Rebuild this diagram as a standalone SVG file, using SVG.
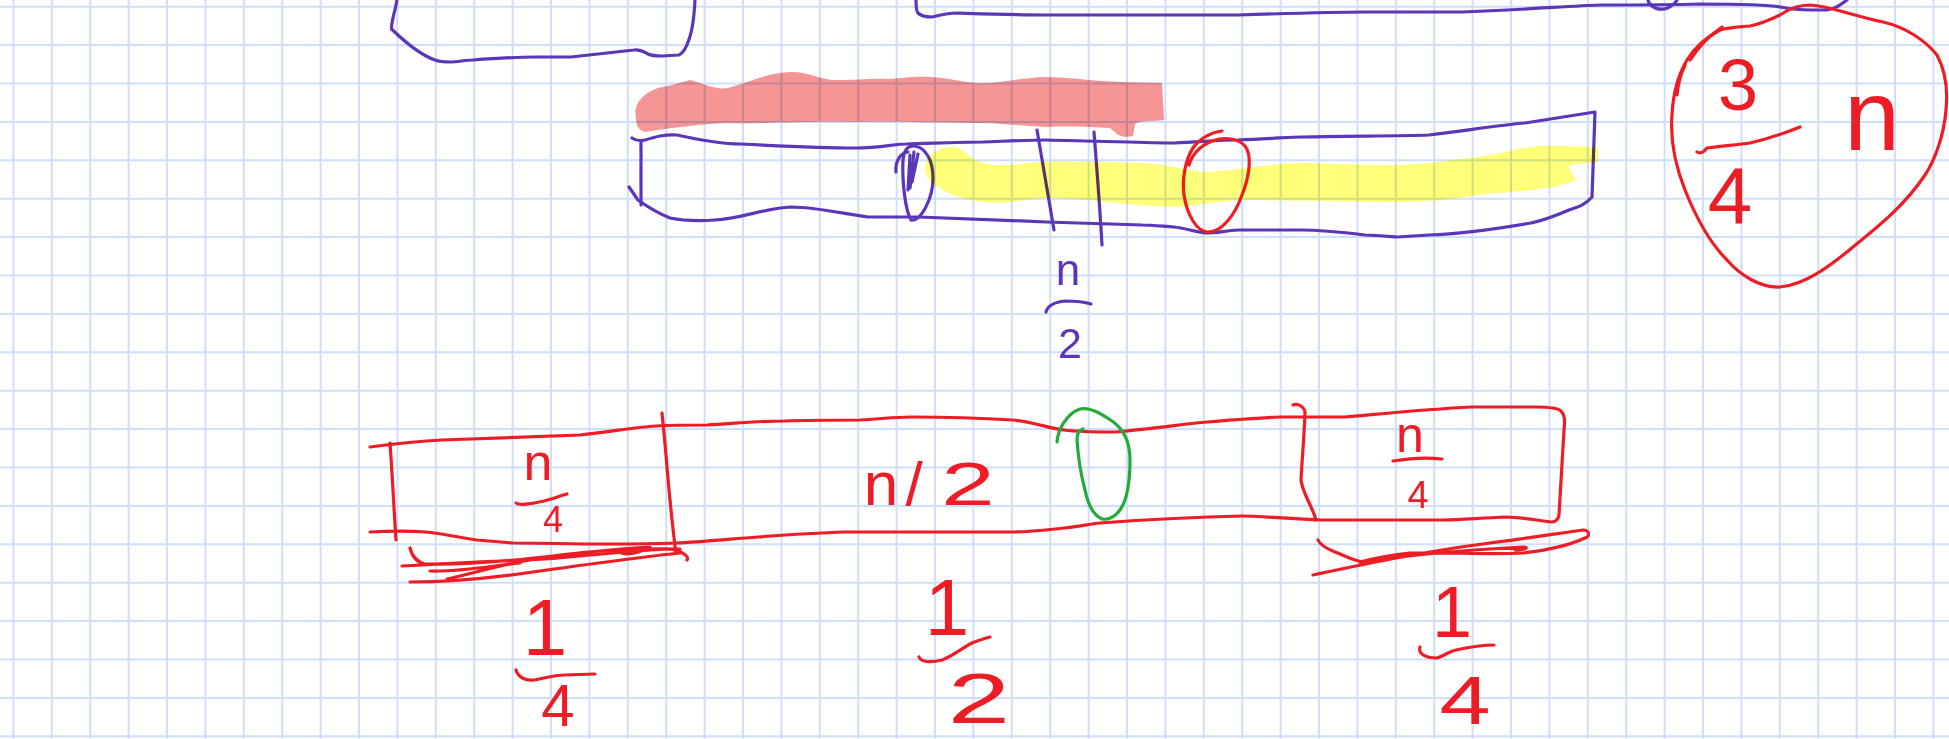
<svg xmlns="http://www.w3.org/2000/svg" width="1949" height="739" viewBox="0 0 1949 739">
  <style>
    .grid { stroke: #cddffb; stroke-width: 2; fill: none; }
    .pu { stroke: #5b36b8; stroke-width: 3.2; fill: none; stroke-linecap: round; stroke-linejoin: round; }
    .rd { stroke: #ee1c25; stroke-width: 3.2; fill: none; stroke-linecap: round; stroke-linejoin: round; }
    .gr { stroke: #22ab3b; stroke-width: 3.2; fill: none; stroke-linecap: round; stroke-linejoin: round; }
    .hl-pink { fill: #f59595; mix-blend-mode: multiply; }
    .hl-yellow { fill: #ffff7a; mix-blend-mode: multiply; }
    .t { font-family: "Liberation Sans", Arial, sans-serif; text-anchor: middle; }
    .tr { fill: #ee1c25; }
    .tp { fill: #5b36b8; }
  </style>

  <rect width="1949" height="739" fill="#ffffff"/>

  <!-- squared paper -->
  <g id="grid" class="grid">
    <path d="M13.4 0V739M51.8 0V739M90.2 0V739M128.6 0V739M167 0V739M205.4 0V739M243.8 0V739M282.2 0V739M320.6 0V739M359 0V739M397.4 0V739M435.8 0V739M474.2 0V739M512.6 0V739M551 0V739M589.4 0V739M627.8 0V739M666.2 0V739M704.6 0V739M743 0V739M781.4 0V739M819.8 0V739M858.2 0V739M896.6 0V739M935 0V739M973.4 0V739M1011.8 0V739M1050.2 0V739M1088.6 0V739M1127 0V739M1165.4 0V739M1203.8 0V739M1242.2 0V739M1280.6 0V739M1319 0V739M1357.4 0V739M1395.8 0V739M1434.2 0V739M1472.6 0V739M1511 0V739M1549.4 0V739M1587.8 0V739M1626.2 0V739M1664.6 0V739M1703 0V739M1741.4 0V739M1779.8 0V739M1818.2 0V739M1856.6 0V739M1895 0V739M1933.4 0V739"/>
    <path d="M0 6.7H1949M0 45.1H1949M0 83.5H1949M0 121.9H1949M0 160.3H1949M0 198.7H1949M0 237.1H1949M0 275.5H1949M0 313.9H1949M0 352.3H1949M0 390.7H1949M0 429.1H1949M0 467.5H1949M0 505.9H1949M0 544.3H1949M0 582.7H1949M0 621.1H1949M0 659.5H1949M0 697.9H1949M0 736.3H1949"/>
  </g>

  <!-- upper boxes, cut by the top edge -->
  <g id="box-top-left">
    <path class="pu" d="M397,0 C395,12 391,22 391.5,29 C405,42 420,55 435,60 C440,62 446,62 450,62 C458,62 465,60 473,60 C500,58 520,57 536,57 L571,57 C590,55 615,52 634,50 C640,49 644,52 648,54 C652,56 656,56 662,56 L679,55 C683,53 686,48 688,42 C692,33 694,20 695,0"/>
  </g>
  <g id="box-top-right">
    <path class="pu" d="M916,0 C916,6 916,11 918,13 C922,17 928,17 932,17 C940,15 950,13 957,13 C990,14 1020,15 1046,15 L1238,15 C1300,13 1340,12 1365,12 L1461,12 C1520,10 1570,6 1600,5 C1640,5 1670,5 1700,4 C1740,4 1770,5 1780,7 C1790,9 1800,10 1812,10 L1827,10 C1835,9 1840,5 1847,0"/>
    <path class="pu" d="M1648,0 C1650,8 1660,11 1668,8 C1673,5 1676,2 1677,0"/>
  </g>

  <!-- middle array -->
  <g id="array-middle">
    <path class="pu" d="M632,138 C636,141 640,141 645,140 C655,137 665,134 677,135 C700,140 720,144 740,144 C780,146 820,148 855,148 C880,148 895,144 906,144 C940,143 960,142 983,142 C1010,141 1030,140 1046,140 C1100,141 1150,143 1174,143 C1200,142 1220,140 1238,140 C1270,139 1290,137 1301,137 C1350,136 1400,136 1429,135 C1470,130 1500,125 1525,123 C1550,119 1575,115 1595,112 L1592,197 C1585,205 1578,207 1569,210 C1555,216 1545,220 1531,223 C1490,230 1460,234 1429,235 L1397,237 C1385,236 1375,235 1365,235 C1340,232 1320,230 1301,230 L1238,230 C1225,231 1215,233 1206,233 C1195,232 1185,228 1174,227 C1160,226 1150,225 1142,225 C1110,224 1080,223 1046,222 C1000,220 950,218 919,217 L868,217 C840,213 815,207 791,207 C765,208 740,219 715,220 C700,221 685,221 670,218 C655,212 645,205 638,200 L629,187"/>
    <path class="pu" d="M641,142 L641,205"/>
    <path class="pu" d="M1037,130 C1042,160 1048,195 1054,230"/>
    <path class="pu" d="M1094,132 C1097,170 1100,210 1102,245"/>
    <path class="pu" d="M913,146 C925,146 933,160 933,178 C933,200 920,222 911,220 C905,210 902,180 903,160 C904,150 908,146 913,146 Z"/>
    <path class="pu" d="M896,172 C895,162 900,153 908,152 M910,155 L908,190 M914,152 L910,188 M918,154 L912,182"/>
    <path class="rd" d="M1222,131 C1212,132 1200,138 1193,148 C1185,160 1182,180 1184,195 C1187,215 1197,232 1208,232 C1222,232 1235,215 1242,195 C1250,175 1252,155 1245,146 C1238,138 1225,137 1212,141 C1200,146 1192,155 1189,165"/>
    <text class="t tp" x="1068" y="285" font-size="44">n</text>
    <path class="pu" d="M1046,312 C1048,305 1055,302 1065,301 C1075,301 1085,302 1091,304"/>
    <text class="t tp" x="1070" y="358" font-size="43">2</text>
  </g>

  <!-- highlighter strokes -->
  <g id="highlights">
    <path class="hl-pink" d="M636,118 C632,100 650,88 668,86 L690,80 C705,84 715,90 728,88 C750,82 770,72 791,72 C810,72 820,80 836,80 C860,80 870,78 887,79 C905,78 915,76 932,77 C955,79 965,83 983,83 C1005,83 1025,77 1046,77 C1080,78 1100,82 1123,82 L1162,83 L1164,120 C1150,122 1140,120 1135,124 L1133,136 C1125,138 1118,136 1115,132 L1110,128 C1090,127 1070,126 1046,127 C1020,126 1000,123 983,123 C950,123 900,121 855,122 C800,121 760,124 728,123 C700,124 670,128 645,132 C638,130 636,125 636,118 Z"/>
    <path class="hl-yellow" d="M925,170 C924,158 935,148 950,147 C962,147 968,155 972,158 C985,166 1000,166 1020,164 C1050,160 1100,162 1142,163 C1170,164 1190,172 1206,172 C1240,170 1270,163 1301,163 C1340,164 1370,165 1397,165 C1430,164 1450,160 1470,158 C1500,155 1515,148 1540,146 C1560,146 1580,146 1598,148 L1598,162 C1585,163 1575,164 1568,166 L1576,180 C1560,188 1520,192 1493,193 C1460,198 1430,202 1397,202 C1340,202 1290,200 1238,200 C1210,202 1190,207 1174,207 C1130,206 1090,198 1046,198 C1025,199 1010,203 995,203 C970,202 950,195 944,190 C932,185 926,178 925,170 Z"/>
  </g>

  <!-- circled note: 3/4 n -->
  <g id="note-three-quarters">
    <path class="rd" d="M1780,15 C1790,8 1800,5 1810,5 C1830,6 1850,15 1883,22 C1905,27 1925,40 1937,55 C1945,70 1948,90 1946,110 C1944,135 1935,160 1925,175 C1905,205 1880,225 1853,247 C1830,266 1805,285 1780,287 C1760,288 1740,275 1727,260 C1710,243 1695,215 1685,190 C1675,165 1670,140 1672,115 C1673,95 1678,75 1687,60 C1695,47 1705,38 1720,30 C1730,27 1740,27 1750,26 C1760,24 1770,20 1780,15 Z"/>
    <path class="rd" d="M1722,27 C1710,35 1700,45 1690,60 M1685,65 C1680,75 1678,85 1677,95"/>
    <text class="t tr" x="1738" y="110" font-size="72">3</text>
    <path class="rd" d="M1697,152 C1700,154 1704,152 1707,148 C1720,146 1735,145 1750,143 C1768,139 1785,133 1800,127"/>
    <text class="t tr" x="1730" y="223" font-size="80">4</text>
    <text class="t tr" x="1872" y="150" font-size="100">n</text>
  </g>

  <!-- bottom array split into n/4, n/2, n/4 -->
  <g id="array-bottom">
    <path class="rd" d="M370,447 C400,443 420,441 442,440 C500,438 550,436 580,435 C610,432 635,427 656,426 C675,425 690,425 707,425 C740,423 760,421 784,421 C810,420 840,420 860,420 C880,419 895,417 911,417 C950,417 980,418 1013,420 C1035,422 1050,429 1064,430 C1080,432 1100,432 1115,432 C1140,430 1170,426 1196,423 C1230,420 1255,418 1280,417 L1345,417 C1390,413 1430,409 1471,407 L1536,407 C1550,407 1558,408 1561,411 C1565,415 1565,420 1564,430 L1559,515 C1558,520 1556,522 1552,522 C1535,520 1520,517 1506,517 C1480,518 1460,520 1444,520 L1322,520 C1290,519 1260,516 1242,516 C1190,517 1140,520 1100,523 C1090,524 1075,527 1064,528 C1045,530 1030,532 1013,532 L845,532 C815,533 785,535 758,537 C730,539 700,542 676,543 C650,544 625,544 605,544 C575,544 540,543 513,543 C500,542 488,541 477,540 C455,537 440,533 426,532 C410,531 390,531 370,532"/>
    <path class="rd" d="M390,443 C392,470 394,510 396,540"/>
    <path class="rd" d="M662,413 C665,440 667,470 670,500 C672,520 674,540 676,553"/>
    <path class="rd" d="M1293,405 C1298,403 1305,407 1305,413 C1304,440 1302,460 1301,480 C1303,495 1312,505 1316,520"/>
    <path class="gr" d="M1057,442 C1058,430 1066,414 1080,409 C1090,407 1100,413 1112,421 C1125,430 1130,445 1130,460 C1130,480 1127,500 1120,510 C1115,517 1108,520 1102,519 C1093,515 1088,505 1085,490 C1081,475 1078,455 1077,440 C1077,434 1079,430 1083,429"/>

    <text class="t tr" x="538" y="480" font-size="52">n</text>
    <path class="rd" d="M516,503 C520,506 530,504 544,501 C552,499 560,496 567,494"/>
    <text class="t tr" x="553" y="532" font-size="36">4</text>

    <text class="t tr" y="505" font-size="62"><tspan x="881">n</tspan><tspan x="914">/</tspan></text>
    <text class="t tr" font-size="62" transform="translate(968,505) scale(1.55,1)">2</text>

    <text class="t tr" x="1410" y="452" font-size="50">n</text>
    <path class="rd" d="M1393,461 C1405,459 1425,457 1442,459"/>
    <text class="t tr" x="1418" y="508" font-size="38">4</text>

    <!-- crossed-out lines under the outer quarters -->
    <path class="rd" d="M410,548 C412,556 416,562 425,564 C470,565 520,560 560,555 C600,550 640,548 680,549 M402,566 C450,563 500,561 545,559 C590,555 630,551 668,549 C680,550 690,556 687,560 M410,582 C450,582 500,577 540,571 C590,564 640,557 680,553 M447,579 C470,574 500,565 530,560 C570,554 610,549 650,547 C640,553 625,556 620,552 M430,571 C460,572 490,566 520,563"/>
    <path class="rd" d="M1318,540 C1320,545 1325,548 1335,552 C1348,557 1355,562 1365,562 C1400,556 1450,551 1523,547 C1530,547 1525,550 1515,550 M1313,575 C1360,565 1420,552 1490,543 C1530,538 1560,533 1583,530 C1590,530 1590,537 1585,538 C1570,545 1550,550 1523,553 C1490,555 1450,552 1410,553 C1390,555 1375,558 1360,562"/>

    <!-- probabilities -->
    <text class="t tr" x="545" y="655" font-size="80">1</text>
    <path class="rd" d="M516,670 C518,677 525,681 534,680 C545,678 555,675 564,675 L595,674"/>
    <text class="t tr" x="558" y="726" font-size="60">4</text>

    <text class="t tr" x="947" y="635" font-size="80">1</text>
    <path class="rd" d="M919,657 C921,662 930,663 942,660 C955,655 965,646 972,643 C980,640 985,638 990,637"/>
    <text class="t tr" font-size="70" transform="translate(979,723) scale(1.6,1)">2</text>

    <text class="t tr" x="1452" y="637" font-size="72">1</text>
    <path class="rd" d="M1420,647 C1418,653 1424,658 1437,658 C1446,655 1450,651 1456,650 C1470,647 1482,645 1494,645"/>
    <text class="t tr" font-size="68" transform="translate(1465,724) scale(1.35,1)">4</text>
  </g>
</svg>
